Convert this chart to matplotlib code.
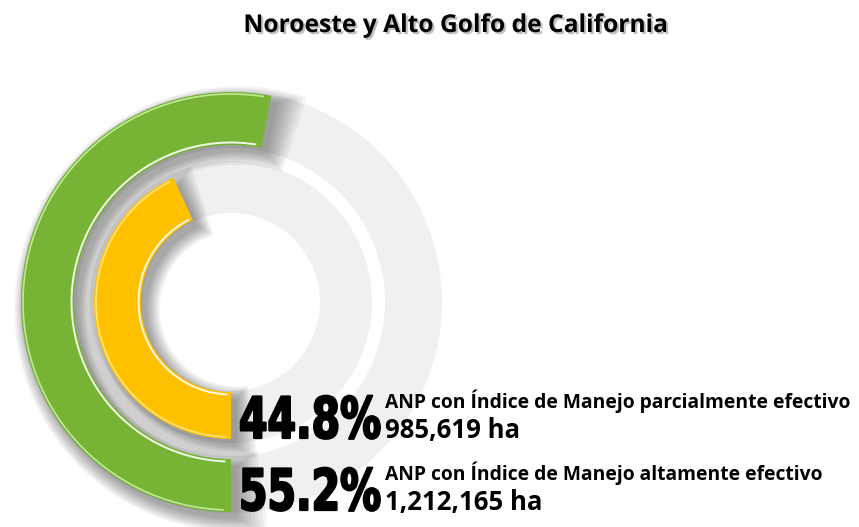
import matplotlib.pyplot as plt
from matplotlib.patches import Wedge, Arc
from matplotlib.transforms import Affine2D
import matplotlib.patheffects as pe

title = "Noroeste y Alto Golfo de California"
categories = ["ANP con Índice de Manejo parcialmente efectivo",
              "ANP con Índice de Manejo altamente efectivo"]
percent = [44.8, 55.2]
hectares = ["985,619 ha", "1,212,165 ha"]
colors = ["#FFC000", "#77B334"]
highlight = ["#FFE680", "#C8EFA0"]

# ring geometry in pixels (inner ring first)
CX, CY = 231, 302
rings = [(90, 137), (157, 210)]
tracks = [(89, 141), (154, 211)]
FULL = 104  # percent that would close the circle


def sweep(p):
    return p / FULL * 360


class Stretch(pe.AbstractPathEffect):
    # stretch the glyphs upward from the baseline, thicken with a stroke
    def __init__(self, sy, stroke=0.0):
        super().__init__()
        self.sy = sy
        self.stroke = stroke

    def draw_path(self, renderer, gc, tpath, affine, rgbFace=None):
        aff = Affine2D().scale(1.0, self.sy) + affine
        gc0 = renderer.new_gc()
        gc0.copy_properties(gc)
        if self.stroke:
            gc0.set_linewidth(self.stroke)
            gc0.set_foreground(rgbFace)
        renderer.draw_path(gc0, tpath, aff, rgbFace)
        gc0.restore()


fig = plt.figure(figsize=(8.59, 5.27), dpi=100)
ax = fig.add_axes([0, 0, 1, 1])
ax.set_xlim(0, 859)
ax.set_ylim(527, 0)
ax.set_aspect("equal")
ax.axis("off")

# background tracks
for r0, r1 in tracks:
    ax.add_patch(Wedge((CX, CY), r1, 0, 360, width=r1 - r0,
                       facecolor="#F0F0F0", edgecolor="none", zorder=1))

# soft shadows under the coloured arcs
for (r0, r1), p in zip(rings, percent):
    t2 = 90 + sweep(p)
    for k in range(9):
        grow = k * 1.6
        ax.add_patch(Wedge((CX + 6, CY + 7), r1 + grow, 90 - k, t2 + k * 0.9,
                           width=r1 - r0 + 2 * grow, facecolor="black",
                           edgecolor="none", alpha=0.045, zorder=2))

# coloured arcs, clockwise from the bottom
for (r0, r1), p, c, h in zip(rings, percent, colors, highlight):
    t2 = 90 + sweep(p)
    ax.add_patch(Wedge((CX, CY), r1, 90, t2, width=r1 - r0,
                       facecolor=c, edgecolor="none", zorder=3))
    ax.add_patch(Arc((CX, CY), 2 * (r0 + 2.5), 2 * (r0 + 2.5), theta1=92,
                     theta2=t2 - 2, color="white", lw=1.4, alpha=0.9, zorder=4))
    ax.add_patch(Arc((CX, CY), 2 * (r1 - 2), 2 * (r1 - 2), theta1=92,
                     theta2=t2 - 2, color=h, lw=1.2, alpha=0.9, zorder=4))

ax.text(456, 32, title, ha="center", va="baseline", fontsize=17.7,
        family="Open Sans", weight="bold", color="black", zorder=6,
        path_effects=[pe.withSimplePatchShadow(offset=(1.5, -1.5),
                                               shadow_rgbFace="gray", alpha=0.5)])

pct_base = [438, 510]
for i in range(2):
    yb = pct_base[i]
    ax.text(239, yb, f"{percent[i]}%", ha="left", va="baseline",
            fontsize=29.5, family="DejaVu Sans", weight="bold",
            color="black", zorder=6, path_effects=[Stretch(1.39, stroke=1.6)])
    ax.text(385, yb - 30, categories[i], ha="left", va="baseline",
            fontsize=13.85, family="Open Sans", weight="bold", color="black",
            zorder=6)
    ax.text(385, yb, hectares[i], ha="left", va="baseline",
            fontsize=18.5, family="Open Sans", weight="bold", color="black",
            zorder=6)

fig.savefig("out.png", dpi=100, facecolor="white")
